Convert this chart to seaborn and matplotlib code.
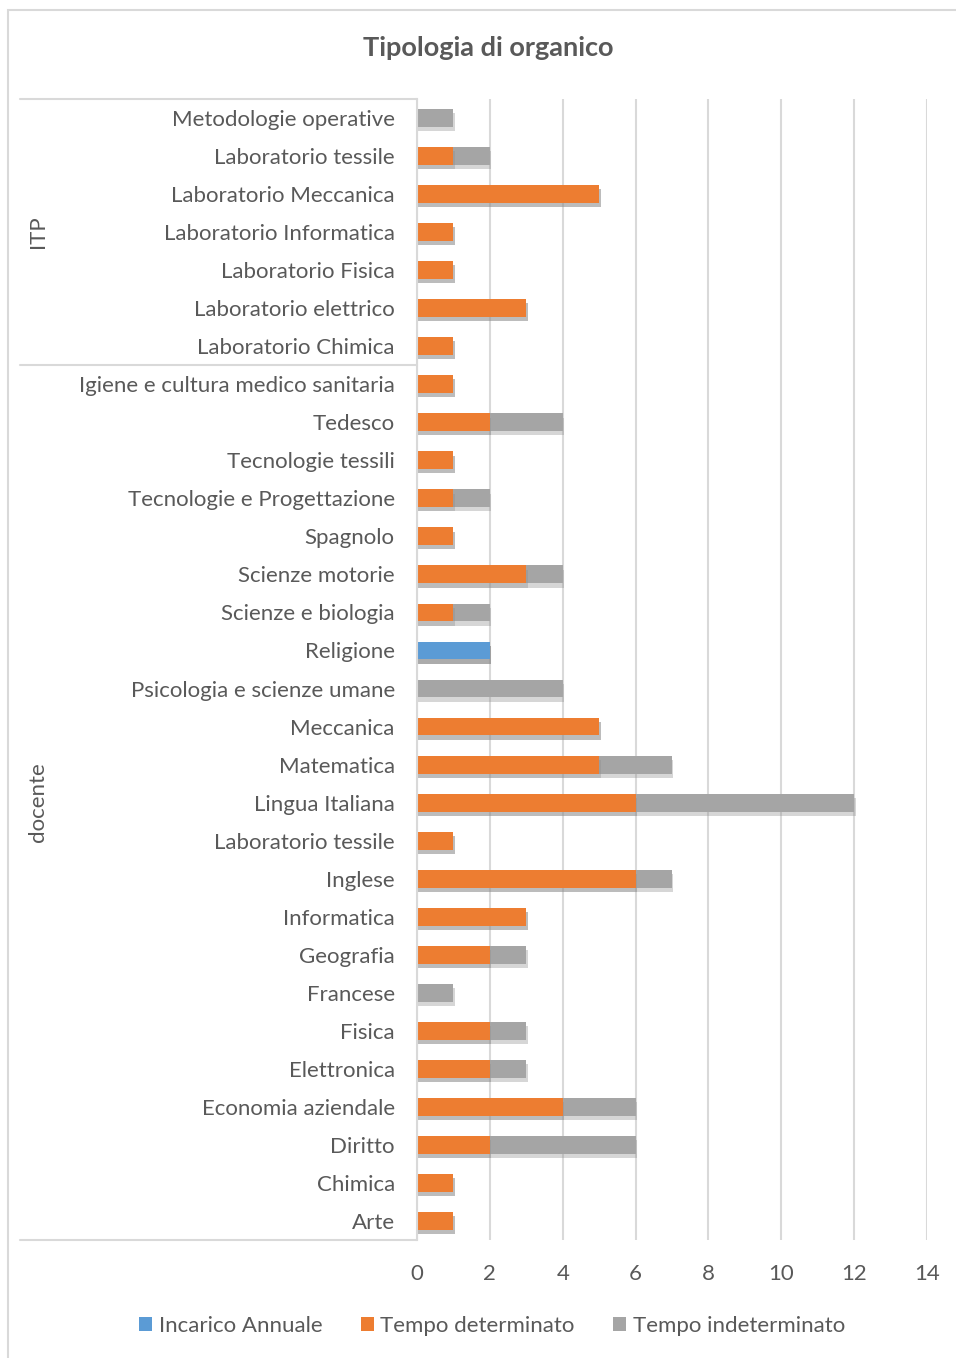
import numpy as np
import pandas as pd
import matplotlib
matplotlib.use("Agg")
import matplotlib.pyplot as plt
import matplotlib.patheffects as pe
from matplotlib.patches import Rectangle, Patch
import matplotlib.transforms as mtransforms
from matplotlib.lines import Line2D
import seaborn as sns

# ---------------- data ----------------
categories = [
    "Metodologie operative", "Laboratorio tessile", "Laboratorio Meccanica",
    "Laboratorio Informatica", "Laboratorio Fisica", "Laboratorio elettrico",
    "Laboratorio Chimica",
    "Igiene e cultura medico sanitaria", "Tedesco", "Tecnologie tessili",
    "Tecnologie e Progettazione", "Spagnolo", "Scienze motorie",
    "Scienze e biologia", "Religione", "Psicologia e scienze umane",
    "Meccanica", "Matematica", "Lingua Italiana", "Laboratorio tessile",
    "Inglese", "Informatica", "Geografia", "Francese", "Fisica",
    "Elettronica", "Economia aziendale", "Diritto", "Chimica", "Arte",
]
groups = ["ITP"] * 7 + ["docente"] * 23
incarico_annuale = [0, 0, 0, 0, 0, 0, 0,
                    0, 0, 0, 0, 0, 0, 0, 2, 0, 0, 0, 0, 0, 0, 0, 0, 0, 0, 0, 0, 0, 0, 0]
tempo_determinato = [0, 1, 5, 1, 1, 3, 1,
                     1, 2, 1, 1, 1, 3, 1, 0, 0, 5, 5, 6, 1, 6, 3, 2, 0, 2, 2, 4, 2, 1, 1]
tempo_indeterminato = [1, 1, 0, 0, 0, 0, 0,
                       0, 2, 0, 1, 0, 1, 1, 0, 4, 0, 2, 6, 0, 1, 0, 1, 1, 1, 1, 2, 4, 0, 0]
series_names = ["Incarico Annuale", "Tempo determinato", "Tempo indeterminato"]
series_colors = ["#5B9BD5", "#ED7D31", "#A5A5A5"]
x_ticks = [0, 2, 4, 6, 8, 10, 12, 14]
title = "Tipologia di organico"

# ---------------- frame ----------------
keys = [f"{g}|{c}" for g, c in zip(groups, categories)]
df = pd.DataFrame({
    "key": keys,
    "ia": incarico_annuale,
    "td": tempo_determinato,
    "ti": tempo_indeterminato,
})
df["cum_ia"] = df["ia"]
df["cum_td"] = df["ia"] + df["td"]
df["cum_ti"] = df["ia"] + df["td"] + df["ti"]

sns.set_theme(style="white")
FONT = ["Lato", "DejaVu Sans"]
plt.rcParams["font.family"] = FONT
TXT = "#595959"

W, H = 956, 1358
fig = plt.figure(figsize=(W / 100, H / 100), dpi=100)
ax = fig.add_axes([417 / W, 1 - 1240 / H, (927 - 417) / W, (1240 - 99) / H])

shadow = [pe.SimplePatchShadow(offset=(1.0, -3.0), shadow_rgbFace="#8c8c8c", alpha=0.35),
          pe.Normal()]
bh = 0.47
for col, color in zip(["cum_ti", "cum_td", "cum_ia"], series_colors[::-1]):
    sub = df[df[col] > 0]
    sns.barplot(data=sub, x=col, y="key", order=keys, orient="y", color=color,
                width=bh, saturation=1, ax=ax, linewidth=0)
for p in ax.patches:
    p.set_path_effects(shadow)

ax.set_xlim(0, 14)
ax.set_ylim(len(keys) - 0.5, -0.5)
ax.set_xticks(x_ticks)
ax.set_xticklabels([str(t) for t in x_ticks])
ax.set_yticks(range(len(keys)))
ax.set_yticklabels(categories)
ax.set_xlabel("")
ax.set_ylabel("")
ax.tick_params(axis="y", length=0, pad=16, labelsize=16, labelcolor=TXT)
ax.tick_params(axis="x", length=0, pad=17, labelsize=16, labelcolor=TXT)
ax.grid(axis="x", color="#D9D9D9", linewidth=1.5)
ax.set_axisbelow(True)
for s in ["top", "right", "bottom"]:
    ax.spines[s].set_visible(False)
ax.spines["left"].set_color("#D9D9D9")
ax.spines["left"].set_linewidth(1.5)

# multi-level category axis lines
tr = mtransforms.blended_transform_factory(ax.transAxes, ax.transData)
x_left = (20 - 417) / (927 - 417)
for yb in [-0.5, 6.5, len(keys) - 0.5]:
    ax.add_line(Line2D([x_left, 0], [yb, yb], transform=tr, color="#D9D9D9",
                       linewidth=1.5, clip_on=False))
group_names = ["ITP", "docente"]
for g in group_names:
    idx = [i for i, gg in enumerate(groups) if gg == g]
    ymid = (idx[0] + idx[-1]) / 2
    ax.text((38 - 417) / (927 - 417), ymid, g, transform=tr, rotation=90,
            ha="center", va="center", fontsize=16, color=TXT)

# title
fig.text(488 / W, 1 - 48 / H, title, ha="center", va="center", fontsize=19.5,
         fontweight="bold", color=TXT)

# legend
handles = [Patch(facecolor=c, edgecolor="none") for c in series_colors]
fig.legend(handles, series_names, loc="center", bbox_to_anchor=(492 / W, 1 - 1326 / H),
           ncol=3, frameon=False, fontsize=16, handlelength=0.6, handleheight=0.6,
           handletextpad=0.3, columnspacing=1.7, labelcolor=TXT)

# chart border
fig.patches.append(Rectangle((8 / W, -0.01), 1.1, 1 - 10 / H + 0.01, transform=fig.transFigure,
                             fill=False, edgecolor="#D9D9D9", linewidth=1.5))

fig.savefig("out.png", dpi=100)
